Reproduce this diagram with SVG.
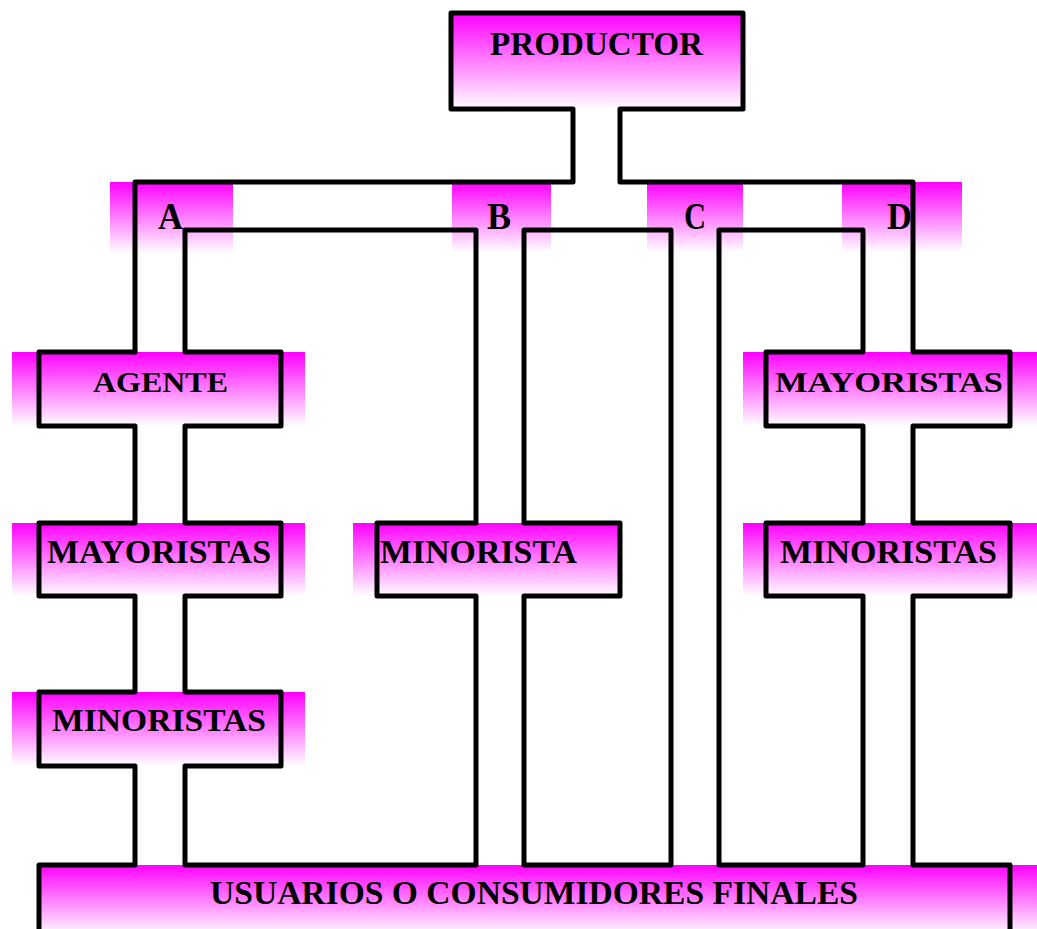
<svg xmlns="http://www.w3.org/2000/svg" width="1037" height="929" viewBox="0 0 1037 929">
  <defs>
    <!-- magenta-to-white vertical fade used by every box and label band -->
    <linearGradient id="fade" x1="0" y1="0" x2="0" y2="1">
      <stop offset="0" stop-color="#ff00ff"/>
      <stop offset="1" stop-color="#ffffff"/>
    </linearGradient>
  </defs>
  <style>
    .band{fill:url(#fade)}
    .lbl{font-family:"Liberation Serif","Times New Roman",serif;font-weight:bold;fill:#000}
    .wire{fill:none;stroke:#000;stroke-width:5;stroke-linejoin:round;stroke-linecap:round}
  </style>
  <rect width="1037" height="929" fill="#ffffff"/>

  <!-- nodes: gradient band + caption -->
  <g id="productor">
    <rect class="band" x="451" y="13" width="292" height="96"/>
    <text class="lbl" x="490" y="55" font-size="34" textLength="213" lengthAdjust="spacingAndGlyphs">PRODUCTOR</text>
  </g>
  <g id="canal-a">
    <rect class="band" x="110" y="182" width="123" height="71"/>
    <text class="lbl" x="158" y="229" font-size="37" textLength="25" lengthAdjust="spacingAndGlyphs">A</text>
  </g>
  <g id="canal-b">
    <rect class="band" x="452" y="182" width="99" height="70"/>
    <text class="lbl" x="487" y="229" font-size="37" textLength="24" lengthAdjust="spacingAndGlyphs">B</text>
  </g>
  <g id="canal-c">
    <rect class="band" x="647" y="182" width="96" height="70"/>
    <text class="lbl" x="684" y="229" font-size="37" textLength="22" lengthAdjust="spacingAndGlyphs">C</text>
  </g>
  <g id="canal-d">
    <rect class="band" x="842" y="182" width="120" height="70"/>
    <text class="lbl" x="887" y="229" font-size="37" textLength="25" lengthAdjust="spacingAndGlyphs">D</text>
  </g>
  <g id="agente">
    <rect class="band" x="12" y="352" width="293" height="74"/>
    <text class="lbl" x="93" y="392" font-size="29" textLength="135" lengthAdjust="spacingAndGlyphs">AGENTE</text>
  </g>
  <g id="mayoristas-a">
    <rect class="band" x="12" y="523" width="293" height="73"/>
    <text class="lbl" x="47" y="563" font-size="34" textLength="224" lengthAdjust="spacingAndGlyphs">MAYORISTAS</text>
  </g>
  <g id="minoristas-a">
    <rect class="band" x="12" y="692" width="293" height="74"/>
    <text class="lbl" x="52" y="731" font-size="31" textLength="214" lengthAdjust="spacingAndGlyphs">MINORISTAS</text>
  </g>
  <g id="minorista-b">
    <rect class="band" x="353" y="523" width="267" height="73"/>
    <text class="lbl" x="380" y="563" font-size="34" textLength="197" lengthAdjust="spacingAndGlyphs">MINORISTA</text>
  </g>
  <g id="mayoristas-d">
    <rect class="band" x="743" y="352" width="294" height="74"/>
    <text class="lbl" x="775" y="392" font-size="30" textLength="228" lengthAdjust="spacingAndGlyphs">MAYORISTAS</text>
  </g>
  <g id="minoristas-d">
    <rect class="band" x="743" y="523" width="294" height="73"/>
    <text class="lbl" x="780" y="563" font-size="34" textLength="217" lengthAdjust="spacingAndGlyphs">MINORISTAS</text>
  </g>
  <g id="usuarios">
    <rect class="band" x="39" y="865" width="998" height="70"/>
    <text class="lbl" x="210" y="904" font-size="33" textLength="648" lengthAdjust="spacingAndGlyphs">USUARIOS O CONSUMIDORES FINALES</text>
  </g>

  <!-- connectors: double-walled channels merging with the box outlines -->
  <g id="connectors" class="wire">
    <!-- outer wall, right side and producer box -->
    <path d="M135,352 V182 H573 V109 H451 V13 H743 V109 H620 V182 H913 V352 H1010 V426 H913 V523 H1010 V596 H913 V865 H1010 V940"/>
    <!-- outer wall, left side -->
    <path d="M39,940 V865 H135 V766 H39 V692 H135 V596 H39 V523 H135 V426 H39 V352 H135"/>
    <!-- island between channels A and B -->
    <path d="M185,230 H476 V523 H377 V596 H476 V865 H185 V766 H281 V692 H185 V596 H281 V523 H185 V426 H281 V352 H185 Z"/>
    <!-- island between channels B and C -->
    <path d="M524,230 H671 V865 H524 V596 H620 V523 H524 Z"/>
    <!-- island between channels C and D -->
    <path d="M719,230 H863 V352 H766 V426 H863 V523 H766 V596 H863 V865 H719 Z"/>
  </g>
</svg>
